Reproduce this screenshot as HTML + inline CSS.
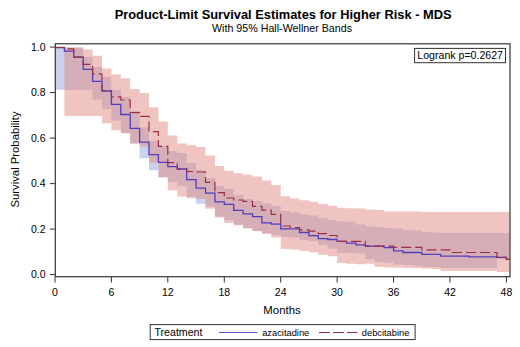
<!DOCTYPE html>
<html><head><meta charset="utf-8"><style>
html,body{margin:0;padding:0;background:#fff;}
svg{display:block;}
text{font-family:"Liberation Sans", sans-serif;fill:#000;}
</style></head><body>
<svg width="520" height="347" viewBox="0 0 520 347">
<rect width="520" height="347" fill="#fff"/>
<text x="283.1" y="18.8" text-anchor="middle" font-size="12.85" font-weight="bold">Product-Limit Survival Estimates for Higher Risk - MDS</text>
<text x="282" y="31.6" text-anchor="middle" font-size="10.7">With 95% Hall-Wellner Bands</text>
<g>
<path d="M55.0,47.5 L64.4,47.5 L64.4,47.5 L73.8,47.5 L73.8,47.5 L83.2,47.5 L83.2,57.0 L92.6,57.0 L92.6,67.0 L102.0,67.0 L102.0,77.0 L111.4,77.0 L111.4,90.0 L120.8,90.0 L120.8,97.0 L130.2,97.0 L130.2,111.0 L139.6,111.0 L139.6,127.5 L149.0,127.5 L149.0,141.0 L158.4,141.0 L158.4,146.0 L167.8,146.0 L167.8,151.0 L177.3,151.0 L177.3,153.0 L186.7,153.0 L186.7,163.0 L196.1,163.0 L196.1,170.0 L205.5,170.0 L205.5,178.0 L214.9,178.0 L214.9,186.0 L224.3,186.0 L224.3,189.0 L233.7,189.0 L233.7,195.0 L243.1,195.0 L243.1,199.0 L252.5,199.0 L252.5,201.0 L261.9,201.0 L261.9,203.5 L271.3,203.5 L271.3,206.0 L280.7,206.0 L280.7,211.0 L290.1,211.0 L290.1,212.5 L299.5,212.5 L299.5,214.5 L308.9,214.5 L308.9,215.5 L318.3,215.5 L318.3,218.0 L327.7,218.0 L327.7,220.0 L337.1,220.0 L337.1,221.6 L346.5,221.6 L346.5,221.8 L355.9,221.8 L355.9,224.4 L365.3,224.4 L365.3,226.5 L374.7,226.5 L374.7,227.0 L384.1,227.0 L384.1,228.0 L393.6,228.0 L393.6,228.5 L403.0,228.5 L403.0,230.0 L412.4,230.0 L412.4,230.5 L421.8,230.5 L421.8,232.0 L431.2,232.0 L431.2,232.5 L440.6,232.5 L440.6,233.0 L450.0,233.0 L450.0,233.0 L459.4,233.0 L459.4,233.0 L468.8,233.0 L468.8,233.0 L478.2,233.0 L478.2,233.0 L487.6,233.0 L487.6,233.0 L497.0,233.0 L497.0,233.0 L509.5,233.0 L509.5,259.0 L497.0,259.0 L497.0,268.0 L487.6,268.0 L487.6,268.0 L478.2,268.0 L478.2,268.0 L468.8,268.0 L468.8,268.0 L459.4,268.0 L459.4,268.0 L450.0,268.0 L450.0,268.0 L440.6,268.0 L440.6,267.0 L431.2,267.0 L431.2,267.0 L421.8,267.0 L421.8,266.0 L412.4,266.0 L412.4,265.0 L403.0,265.0 L403.0,264.5 L393.6,264.5 L393.6,262.5 L384.1,262.5 L384.1,262.0 L374.7,262.0 L374.7,259.0 L365.3,259.0 L365.3,253.5 L355.9,253.5 L355.9,253.0 L346.5,253.0 L346.5,253.0 L337.1,253.0 L337.1,248.6 L327.7,248.6 L327.7,245.0 L318.3,245.0 L318.3,241.0 L308.9,241.0 L308.9,240.0 L299.5,240.0 L299.5,237.5 L290.1,237.5 L290.1,237.0 L280.7,237.0 L280.7,235.0 L271.3,235.0 L271.3,233.0 L261.9,233.0 L261.9,231.0 L252.5,231.0 L252.5,228.0 L243.1,228.0 L243.1,224.5 L233.7,224.5 L233.7,220.0 L224.3,220.0 L224.3,216.5 L214.9,216.5 L214.9,206.5 L205.5,206.5 L205.5,203.8 L196.1,203.8 L196.1,196.7 L186.7,196.7 L186.7,186.0 L177.3,186.0 L177.3,182.0 L167.8,182.0 L167.8,177.3 L158.4,177.3 L158.4,170.3 L149.0,170.3 L149.0,158.3 L139.6,158.3 L139.6,143.4 L130.2,143.4 L130.2,133.0 L120.8,133.0 L120.8,120.5 L111.4,120.5 L111.4,109.0 L102.0,109.0 L102.0,99.5 L92.6,99.5 L92.6,90.0 L83.2,90.0 L83.2,90.0 L73.8,90.0 L73.8,90.0 L64.4,90.0 L64.4,89.8 L55.0,89.8 Z" fill="rgb(145,165,217)" fill-opacity="0.5"/>
<path d="M64.4,47.5 L73.8,47.5 L73.8,47.5 L83.2,47.5 L83.2,49.5 L92.6,49.5 L92.6,55.8 L102.0,55.8 L102.0,68.5 L111.4,68.5 L111.4,74.5 L120.8,74.5 L120.8,78.3 L130.2,78.3 L130.2,89.0 L139.6,89.0 L139.6,93.0 L149.0,93.0 L149.0,107.2 L158.4,107.2 L158.4,121.5 L167.8,121.5 L167.8,135.5 L177.3,135.5 L177.3,143.5 L186.7,143.5 L186.7,145.3 L196.1,145.3 L196.1,147.0 L205.5,147.0 L205.5,155.5 L214.9,155.5 L214.9,166.0 L224.3,166.0 L224.3,171.0 L233.7,171.0 L233.7,173.2 L243.1,173.2 L243.1,174.7 L252.5,174.7 L252.5,176.5 L261.9,176.5 L261.9,180.5 L271.3,180.5 L271.3,185.0 L280.7,185.0 L280.7,196.2 L290.1,196.2 L290.1,198.4 L299.5,198.4 L299.5,200.2 L308.9,200.2 L308.9,201.8 L318.3,201.8 L318.3,203.9 L327.7,203.9 L327.7,205.7 L337.1,205.7 L337.1,207.8 L346.5,207.8 L346.5,208.3 L355.9,208.3 L355.9,208.6 L365.3,208.6 L365.3,209.5 L374.7,209.5 L374.7,210.0 L384.1,210.0 L384.1,211.5 L393.6,211.5 L393.6,211.5 L403.0,211.5 L403.0,211.5 L412.4,211.5 L412.4,211.5 L421.8,211.5 L421.8,212.0 L431.2,212.0 L431.2,212.0 L440.6,212.0 L440.6,212.0 L450.0,212.0 L450.0,212.0 L459.4,212.0 L459.4,212.0 L468.8,212.0 L468.8,212.0 L478.2,212.0 L478.2,212.0 L487.6,212.0 L487.6,212.0 L497.0,212.0 L497.0,212.0 L509.5,212.0 L509.5,272.0 L497.0,272.0 L497.0,271.0 L487.6,271.0 L487.6,271.0 L478.2,271.0 L478.2,271.0 L468.8,271.0 L468.8,271.0 L459.4,271.0 L459.4,271.0 L450.0,271.0 L450.0,271.0 L440.6,271.0 L440.6,269.0 L431.2,269.0 L431.2,268.5 L421.8,268.5 L421.8,268.0 L412.4,268.0 L412.4,268.0 L403.0,268.0 L403.0,267.7 L393.6,267.7 L393.6,267.5 L384.1,267.5 L384.1,267.0 L374.7,267.0 L374.7,263.8 L365.3,263.8 L365.3,264.3 L355.9,264.3 L355.9,263.7 L346.5,263.7 L346.5,263.1 L337.1,263.1 L337.1,256.2 L327.7,256.2 L327.7,254.7 L318.3,254.7 L318.3,252.2 L308.9,252.2 L308.9,251.0 L299.5,251.0 L299.5,249.4 L290.1,249.4 L290.1,249.0 L280.7,249.0 L280.7,237.5 L271.3,237.5 L271.3,234.0 L261.9,234.0 L261.9,231.0 L252.5,231.0 L252.5,228.5 L243.1,228.5 L243.1,225.3 L233.7,225.3 L233.7,223.1 L224.3,223.1 L224.3,217.4 L214.9,217.4 L214.9,208.8 L205.5,208.8 L205.5,198.8 L196.1,198.8 L196.1,198.3 L186.7,198.3 L186.7,196.6 L177.3,196.6 L177.3,190.2 L167.8,190.2 L167.8,177.3 L158.4,177.3 L158.4,162.5 L149.0,162.5 L149.0,146.5 L139.6,146.5 L139.6,143.4 L130.2,143.4 L130.2,133.3 L120.8,133.3 L120.8,130.3 L111.4,130.3 L111.4,123.2 L102.0,123.2 L102.0,116.0 L92.6,116.0 L92.6,116.0 L83.2,116.0 L83.2,116.0 L73.8,116.0 L73.8,116.0 L64.4,116.0 Z" fill="rgb(225,137,129)" fill-opacity="0.5"/>
<path d="M55.0,47.5 L64.4,47.5 L64.4,51.2 L73.8,51.2 L73.8,57.1 L83.2,57.1 L83.2,69.4 L92.6,69.4 L92.6,81.3 L102.0,81.3 L102.0,91.0 L111.4,91.0 L111.4,104.4 L120.8,104.4 L120.8,114.5 L130.2,114.5 L130.2,128.3 L139.6,128.3 L139.6,142.2 L149.0,142.2 L149.0,154.6 L158.4,154.6 L158.4,162.4 L167.8,162.4 L167.8,166.7 L177.3,166.7 L177.3,169.0 L186.7,169.0 L186.7,179.7 L196.1,179.7 L196.1,188.1 L205.5,188.1 L205.5,193.2 L214.9,193.2 L214.9,201.9 L224.3,201.9 L224.3,204.3 L233.7,204.3 L233.7,210.4 L243.1,210.4 L243.1,213.8 L252.5,213.8 L252.5,216.7 L261.9,216.7 L261.9,222.8 L271.3,222.8 L271.3,224.2 L280.7,224.2 L280.7,228.8 L290.1,228.8 L290.1,228.8 L299.5,228.8 L299.5,232.5 L308.9,232.5 L308.9,235.7 L318.3,235.7 L318.3,238.6 L327.7,238.6 L327.7,239.5 L337.1,239.5 L337.1,241.4 L346.5,241.4 L346.5,243.2 L355.9,243.2 L355.9,244.9 L365.3,244.9 L365.3,246.1 L374.7,246.1 L374.7,246.1 L384.1,246.1 L384.1,247.6 L393.6,247.6 L393.6,250.8 L403.0,250.8 L403.0,252.5 L412.4,252.5 L412.4,252.5 L421.8,252.5 L421.8,254.3 L431.2,254.3 L431.2,254.3 L440.6,254.3 L440.6,256.1 L450.0,256.1 L450.0,256.1 L459.4,256.1 L459.4,256.1 L468.8,256.1 L468.8,256.9 L478.2,256.9 L478.2,256.9 L487.6,256.9 L487.6,256.9 L497.0,256.9 L497.0,257.3 L506.4,257.3 L506.4,259.3 L509.5,259.3" fill="none" stroke="rgb(82,62,188)" stroke-width="1.3"/>
<path d="M55.0,47.5 L64.4,47.5 L64.4,48.8 L73.8,48.8 L73.8,57.1 L83.2,57.1 L83.2,64.3 L92.6,64.3 L92.6,73.9 L102.0,73.9 L102.0,90.5 L111.4,90.5 L111.4,96.8 L120.8,96.8 L120.8,100.0 L130.2,100.0 L130.2,112.6 L139.6,112.6 L139.6,116.3 L149.0,116.3 L149.0,131.6 L158.4,131.6 L158.4,146.4 L167.8,146.4 L167.8,162.6 L177.3,162.6 L177.3,169.0 L186.7,169.0 L186.7,171.5 L196.1,171.5 L196.1,172.0 L205.5,172.0 L205.5,182.3 L214.9,182.3 L214.9,192.7 L224.3,192.7 L224.3,198.0 L233.7,198.0 L233.7,200.0 L243.1,200.0 L243.1,201.3 L252.5,201.3 L252.5,206.3 L261.9,206.3 L261.9,210.2 L271.3,210.2 L271.3,214.4 L280.7,214.4 L280.7,226.0 L290.1,226.0 L290.1,227.5 L299.5,227.5 L299.5,229.8 L308.9,229.8 L308.9,231.1 L318.3,231.1 L318.3,233.6 L327.7,233.6 L327.7,235.5 L337.1,235.5 L337.1,241.4 L346.5,241.4 L346.5,241.4 L355.9,241.4 L355.9,241.4 L365.3,241.4 L365.3,246.1 L374.7,246.1 L374.7,246.1 L384.1,246.1 L384.1,246.1 L393.6,246.1 L393.6,247.3 L403.0,247.3 L403.0,247.3 L412.4,247.3 L412.4,247.3 L421.8,247.3 L421.8,249.9 L431.2,249.9 L431.2,249.9 L440.6,249.9 L440.6,249.9 L450.0,249.9 L450.0,252.5 L459.4,252.5 L459.4,252.5 L468.8,252.5 L468.8,252.5 L478.2,252.5 L478.2,252.5 L487.6,252.5 L487.6,252.5 L497.0,252.5 L497.0,257.3 L506.4,257.3 L506.4,259.3 L509.5,259.3" fill="none" stroke="rgb(155,48,66)" stroke-width="1.2" stroke-dasharray="10,4"/>
</g>
<rect x="55.3" y="43.8" width="454.7" height="232.9" fill="none" stroke="#333" stroke-width="1.2"/>
<line x1="50" y1="274.6" x2="55" y2="274.6" stroke="#333" stroke-width="1"/><text x="45.6" y="278.3" text-anchor="end" font-size="10.5">0.0</text><line x1="50" y1="229.1" x2="55" y2="229.1" stroke="#333" stroke-width="1"/><text x="45.6" y="232.8" text-anchor="end" font-size="10.5">0.2</text><line x1="50" y1="183.6" x2="55" y2="183.6" stroke="#333" stroke-width="1"/><text x="45.6" y="187.3" text-anchor="end" font-size="10.5">0.4</text><line x1="50" y1="138.1" x2="55" y2="138.1" stroke="#333" stroke-width="1"/><text x="45.6" y="141.8" text-anchor="end" font-size="10.5">0.6</text><line x1="50" y1="92.6" x2="55" y2="92.6" stroke="#333" stroke-width="1"/><text x="45.6" y="96.3" text-anchor="end" font-size="10.5">0.8</text><line x1="50" y1="47.1" x2="55" y2="47.1" stroke="#333" stroke-width="1"/><text x="45.6" y="50.8" text-anchor="end" font-size="10.5">1.0</text>
<line x1="55.0" y1="277" x2="55.0" y2="282.5" stroke="#333" stroke-width="1"/><text x="55.0" y="295.8" text-anchor="middle" font-size="10.5">0</text><line x1="111.4" y1="277" x2="111.4" y2="282.5" stroke="#333" stroke-width="1"/><text x="111.4" y="295.8" text-anchor="middle" font-size="10.5">6</text><line x1="167.8" y1="277" x2="167.8" y2="282.5" stroke="#333" stroke-width="1"/><text x="167.8" y="295.8" text-anchor="middle" font-size="10.5">12</text><line x1="224.3" y1="277" x2="224.3" y2="282.5" stroke="#333" stroke-width="1"/><text x="224.3" y="295.8" text-anchor="middle" font-size="10.5">18</text><line x1="280.7" y1="277" x2="280.7" y2="282.5" stroke="#333" stroke-width="1"/><text x="280.7" y="295.8" text-anchor="middle" font-size="10.5">24</text><line x1="337.1" y1="277" x2="337.1" y2="282.5" stroke="#333" stroke-width="1"/><text x="337.1" y="295.8" text-anchor="middle" font-size="10.5">30</text><line x1="393.6" y1="277" x2="393.6" y2="282.5" stroke="#333" stroke-width="1"/><text x="393.6" y="295.8" text-anchor="middle" font-size="10.5">36</text><line x1="450.0" y1="277" x2="450.0" y2="282.5" stroke="#333" stroke-width="1"/><text x="450.0" y="295.8" text-anchor="middle" font-size="10.5">42</text><line x1="506.4" y1="277" x2="506.4" y2="282.5" stroke="#333" stroke-width="1"/><text x="506.4" y="295.8" text-anchor="middle" font-size="10.5">48</text>
<rect x="414.6" y="48.4" width="90.9" height="14.3" fill="#fff" stroke="#333" stroke-width="1"/>
<text x="417.3" y="58.9" font-size="10.6">Logrank p=0.2627</text>
<text x="282" y="313.9" text-anchor="middle" font-size="11.4">Months</text>
<text transform="translate(18.6,159.5) rotate(-90)" text-anchor="middle" font-size="11.3">Survival Probability</text>
<rect x="150.2" y="324.6" width="264.9" height="15" fill="none" stroke="#333" stroke-width="1"/>
<text x="154.5" y="335.8" font-size="10.6">Treatment</text>
<line x1="219" y1="332.5" x2="257.4" y2="332.5" stroke="rgb(100,90,200)" stroke-width="1.2"/>
<text x="262.2" y="335.7" font-size="9.3">azacitadine</text>
<line x1="319" y1="332.5" x2="357.5" y2="332.5" stroke="rgb(155,48,66)" stroke-width="1.1" stroke-dasharray="11,3"/>
<text x="361.8" y="335.7" font-size="9.3">debcitabine</text>
</svg>
</body></html>
